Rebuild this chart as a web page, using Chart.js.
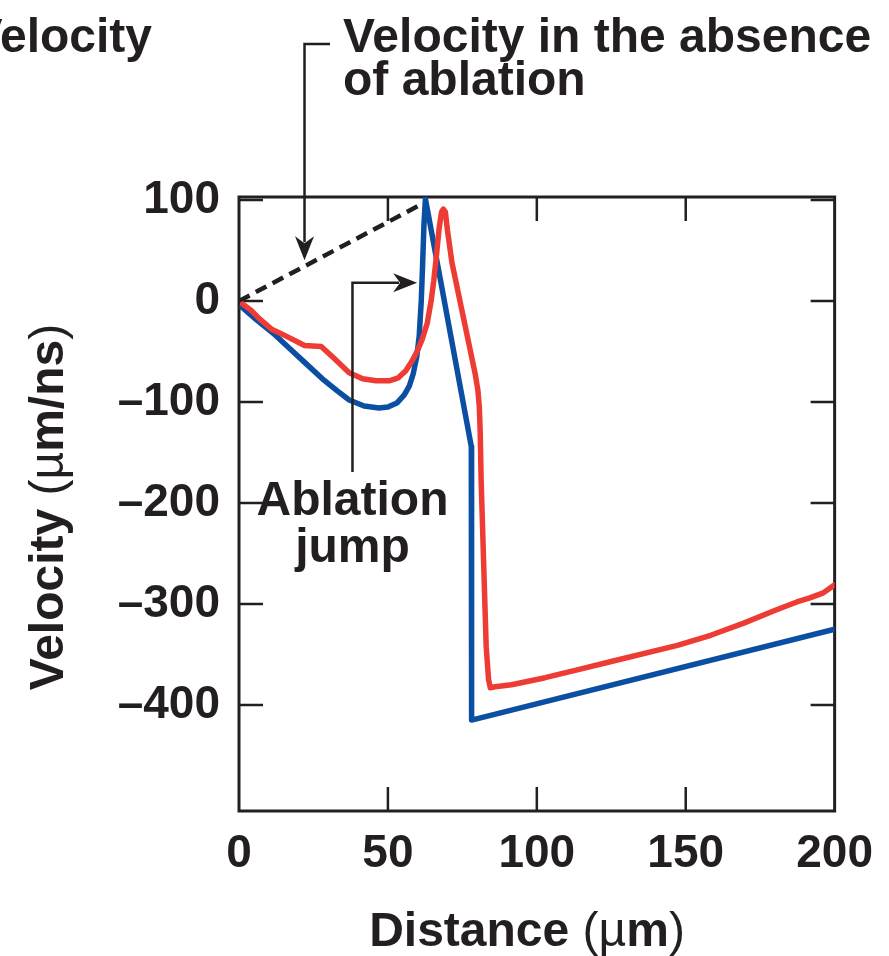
<!DOCTYPE html>
<html><head><meta charset="utf-8">
<script src="https://cdn.jsdelivr.net/npm/chart.js@4.4.1/dist/chart.umd.min.js"></script>
<style>html,body{margin:0;padding:0;background:#fff;overflow:hidden}#wrap{width:889px;height:956px}</style>
</head><body><div id="wrap"><canvas id="c" width="889" height="956"></canvas></div>
<script>
// ---- data ----
const xTicks = [0, 50, 100, 150, 200];
const yTicks = [-400, -300, -200, -100, 0, 100];

const blueX = [1, 6, 11.5, 17, 22.5, 28, 33, 37, 42, 47, 50, 53, 55.5, 57.2, 58.5, 59.7, 60.5, 61.2, 61.7, 62.1, 62.6, 78, 78.1, 200];
const blueY = [-6, -19, -32, -47, -62, -77, -89, -98, -104, -106, -105, -101, -93, -84, -72, -55, -35, 0, 40, 75, 101, -144, -415, -325];

const redX = [1.2, 4, 7, 11, 16, 22, 27.6, 32, 37, 41.5, 46, 50.4, 53.5, 56, 58, 59.8, 61.5, 63.2, 64.5, 65.4, 66.3, 67.2, 68, 68.6, 69.3, 70, 71.5, 79.3, 80.2, 80.7, 81.0, 81.3, 83.0, 83.8, 84.4, 86, 91.5, 102.8, 113.9, 125, 147.2, 158.4, 169.5, 180.3, 187.3, 191.7, 196.2, 200];
const redY = [-3, -9, -18, -28, -35, -44, -45, -57, -71, -77, -79, -79, -76, -69, -60, -50, -38, -22, 0, 20, 45, 72, 88, 91, 88, 70, 38, -72, -88, -105, -130, -177, -342, -375, -383, -382, -380, -373, -365, -357, -341, -331, -319, -306, -298, -294, -289, -281];

const noAblationX = [0, 62];
const noAblationY = [0, 97];

const xTitle = [['Distance ', 'bold'], ['(\u00b5', 'normal'], ['m', 'bold'], [')', 'normal']];
const yTitle = [['Velocity ', 'bold'], ['(\u00b5', 'normal'], ['m/ns', 'bold'], [')', 'normal']];
const absenceLines = ['Velocity in the absence', 'of ablation'];
const jumpLines = ['Ablation', 'jump'];
const topLeftText = 'Velocity';

// ---- style ----
const INK = '#231f20';
const BLUE = '#0b4fa3';
const RED = '#ee3b33';
const FAM = '"Liberation Sans", Arial, Helvetica, sans-serif';
const FS = 46;   // tick labels
const FT = 48;   // titles and annotations

const pts = (xs, ys) => xs.map((v, i) => ({x: v, y: ys[i]}));

function mixedWidth(ctx, segs) {
  let w = 0;
  segs.forEach(([t, wt]) => { ctx.font = wt + ' ' + FT + 'px ' + FAM; w += ctx.measureText(t).width; });
  return w;
}
function drawMixed(ctx, segs, cx, baseY) {
  const w = mixedWidth(ctx, segs);
  let x = cx - w / 2;
  ctx.textAlign = 'left'; ctx.textBaseline = 'alphabetic';
  segs.forEach(([t, wt]) => { ctx.font = wt + ' ' + FT + 'px ' + FAM; ctx.fillText(t, x, baseY); x += ctx.measureText(t).width; });
}
function arrowHead(ctx, tx, ty, ang) {
  const len = 24, half = 9.5, notch = 7;
  ctx.save(); ctx.translate(tx, ty); ctx.rotate(ang);
  ctx.beginPath(); ctx.moveTo(0, 0); ctx.lineTo(-len, -half); ctx.lineTo(-len + notch, 0); ctx.lineTo(-len, half); ctx.closePath();
  ctx.fill(); ctx.restore();
}

const framePlugin = {
  id: 'frame',
  beforeDatasetsDraw(chart) {
    const {ctx, chartArea: a, scales: {x, y}} = chart;
    ctx.save();
    ctx.strokeStyle = INK; ctx.lineWidth = 3;
    ctx.strokeRect(a.left, a.top, a.right - a.left, a.bottom - a.top);
    ctx.lineWidth = 2.5;
    const L = 24;
    ctx.beginPath();
    xTicks.forEach(v => {
      if (v === x.min || v === x.max) return;
      const p = x.getPixelForValue(v);
      ctx.moveTo(p, a.top); ctx.lineTo(p, a.top + L);
      ctx.moveTo(p, a.bottom); ctx.lineTo(p, a.bottom - L);
    });
    yTicks.forEach(v => {
      const p = y.getPixelForValue(v);
      ctx.moveTo(a.left, p); ctx.lineTo(a.left + L, p);
      ctx.moveTo(a.right, p); ctx.lineTo(a.right - L, p);
    });
    ctx.stroke();
    ctx.restore();
  }
};

const annotPlugin = {
  id: 'annot',
  afterDraw(chart) {
    const {ctx, chartArea: a, scales: {x, y}} = chart;
    ctx.save();
    ctx.fillStyle = INK; ctx.strokeStyle = INK;
    // axis titles
    drawMixed(ctx, xTitle, 527, 946);
    ctx.save(); ctx.translate(63, 507); ctx.rotate(-Math.PI / 2);
    drawMixed(ctx, yTitle, 0, 0); ctx.restore();

    // top-left cut-off label
    ctx.font = 'bold ' + FT + 'px ' + FAM; ctx.textAlign = 'right'; ctx.textBaseline = 'alphabetic';
    ctx.fillText(topLeftText, 152, 52);

    // "Velocity in the absence of ablation"
    ctx.textAlign = 'left';
    ctx.fillText(absenceLines[0], 343, 52);
    ctx.fillText(absenceLines[1], 343, 95);
    const ax = x.getPixelForValue(22);
    const ay = y.getPixelForValue(22 * noAblationY[1] / noAblationX[1]) - 6;
    ctx.lineWidth = 2.5;
    ctx.beginPath(); ctx.moveTo(330, 44); ctx.lineTo(ax, 44); ctx.lineTo(ax, ay - 18); ctx.stroke();
    arrowHead(ctx, ax, ay, Math.PI / 2);

    // "Ablation jump"
    const jx = x.getPixelForValue(38.1);
    const tipX = x.getPixelForValue(59.8), tipY = y.getPixelForValue(18);
    ctx.beginPath(); ctx.moveTo(jx, 472); ctx.lineTo(jx, tipY); ctx.lineTo(tipX - 18, tipY); ctx.stroke();
    arrowHead(ctx, tipX, tipY, 0);
    ctx.textAlign = 'center';
    ctx.fillText(jumpLines[0], jx, 515);
    ctx.fillText(jumpLines[1], jx, 562);
    ctx.restore();
  }
};

const tickFmt = v => (v < 0 ? '\u2013' + (-v) : '' + v);

new Chart(document.getElementById('c'), {
  type: 'scatter',
  data: {
    datasets: [
      {data: pts(redX, redY), showLine: true, borderColor: RED, borderWidth: 5.5, pointRadius: 0, tension: 0, borderJoinStyle: 'round', borderCapStyle: 'round', fill: false},
      {data: pts(blueX, blueY), showLine: true, borderColor: BLUE, borderWidth: 5.5, pointRadius: 0, tension: 0, borderJoinStyle: 'round', borderCapStyle: 'round', fill: false},
      {data: pts(noAblationX, noAblationY), showLine: true, borderColor: INK, borderWidth: 4.5, borderDash: [12, 7], pointRadius: 0, tension: 0, fill: false}
    ]
  },
  options: {
    responsive: false, animation: false, devicePixelRatio: 1,
    layout: {padding: {left: 0, top: 197, right: 51, bottom: 0}},
    plugins: {legend: {display: false}, tooltip: {enabled: false}},
    scales: {
      x: {
        type: 'linear', min: 0, max: 200,
        afterBuildTicks: s => { s.ticks = xTicks.map(v => ({value: v})); },
        afterFit: s => { s.height = 145; },
        grid: {display: false, drawTicks: false}, border: {display: false},
        ticks: {color: INK, font: {family: FAM, size: FS, weight: 'bold'}, padding: 16, maxRotation: 0, callback: tickFmt}
      },
      y: {
        type: 'linear', min: -505, max: 103,
        afterBuildTicks: s => { s.ticks = yTicks.map(v => ({value: v})); },
        afterFit: s => { s.width = 239; },
        grid: {display: false, drawTicks: false}, border: {display: false},
        ticks: {color: INK, font: {family: FAM, size: FS, weight: 'bold'}, padding: 19, callback: tickFmt}
      }
    }
  },
  plugins: [framePlugin, annotPlugin]
});
</script>
</body></html>
